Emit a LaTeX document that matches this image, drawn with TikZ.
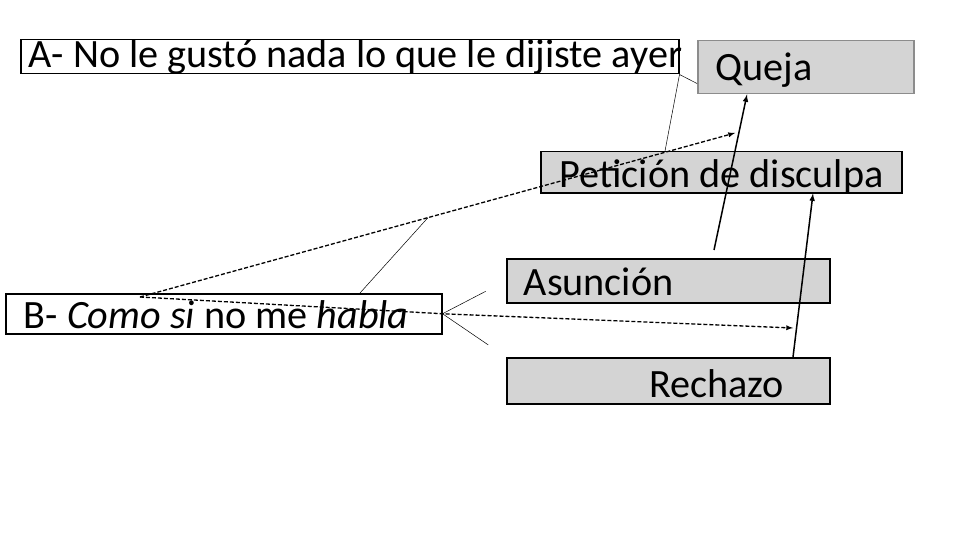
\documentclass[tikz,border=0pt]{standalone}
\usepackage{fontspec}
\setmainfont{Carlito}
\usepackage{xcolor}
\usepackage{tikz}
\usetikzlibrary{calc}

\definecolor{boxgray}{RGB}{212,212,212}
\definecolor{edgegray}{RGB}{140,140,140}

\tikzset{
  txtbox/.style={draw, line width=1.5pt, anchor=north west, inner ysep=0pt, font=\fontsize{40.2}{46}\selectfont},
  graybox/.style={txtbox, fill=boxgray},
  dashlink/.style={line width=1.3pt, dash pattern=on 4pt off 2pt, -latex},
  thinlink/.style={line width=0.5pt},
  solidlink/.style={line width=1.5pt, -latex},
}

\begin{document}
\begin{tikzpicture}[x=1pt, y=-1pt]
        \useasboundingbox (0,0) rectangle (960,540);
        \node[txtbox, inner xsep=8pt, text height=28pt, text depth=6pt] (frasea) at (20,39) {\makebox[642pt][l]{A- No le gustó nada lo que le dijiste ayer}};
        \node[graybox, draw=edgegray, inner xsep=18pt, text height=40pt, text depth=13pt] (queja) at (697,40) {\makebox[180pt][l]{Queja}};
        \node[graybox, inner xsep=19pt, text height=36pt, text depth=5pt] (pet) at (540,151) {\makebox[323pt][l]{Petición de disculpa}};
        \node[graybox, inner xsep=17pt, text height=37pt, text depth=7pt] (asun) at (506,258) {\makebox[289pt][l]{Asunción}};
        \node[graybox, inner xsep=46pt, text height=40pt, text depth=6pt] (rech) at (506,357) {\makebox[231pt][r]{Rechazo}};
        \node[txtbox, inner xsep=18pt, text height=35pt, text depth=5pt] (fraseb) at (5,293) {\makebox[400pt][l]{B- \textit{Como si} no me \textit{habla}}};

        \coordinate (bsal) at ([xshift=135pt,yshift=-4pt]fraseb.north west);
        \coordinate (hacia) at (735,133);
        \coordinate (hacib) at (793,328);
        \coordinate (desde) at (714,250);

        % A se lee como queja o peticion
        \draw[thinlink] ([yshift=11pt]queja.south west) -- (frasea.south east) -- ([xshift=125pt]pet.north west);
        \draw[dashlink] (bsal) -- (hacia);
        \draw[dashlink] (bsal) -- (fraseb.east) -- (hacib);
        \draw[thinlink] ([xshift=355pt]fraseb.north west) -- ($(bsal)!0.484!(hacia)$);
        % B se abre hacia asuncion y rechazo
        \draw[thinlink] ($(fraseb.east)!0.68!(asun.west)$) -- (fraseb.east) -- ($(fraseb.east)!0.72!(rech.north west)$);
        \draw[solidlink] (desde) -- ([xshift=50pt]queja.south west);
        \draw[solidlink] ([xshift=287pt]rech.north west) -- ([xshift=273pt]pet.south west);
\end{tikzpicture}
\end{document}
